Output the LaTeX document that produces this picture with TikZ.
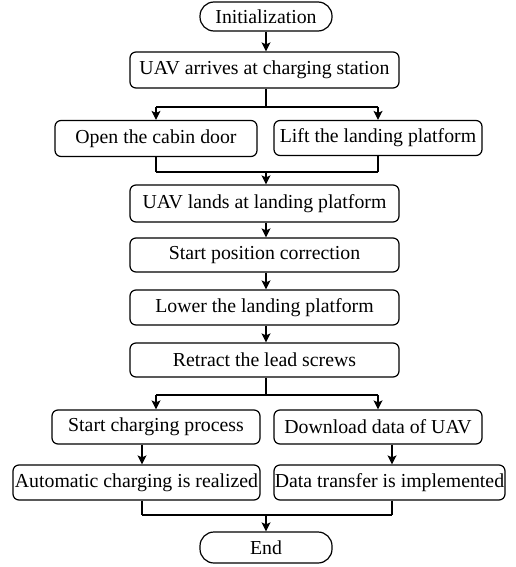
\documentclass[tikz,border=0pt]{standalone}
\usepackage{fontspec}
\setmainfont{Liberation Serif}
\usetikzlibrary{arrows.meta}
\begin{document}
\begin{tikzpicture}[x=1pt,y=-1pt,
  box/.style={draw, line width=1.2pt, rounded corners=6pt, inner sep=0pt, font=\fontsize{19.8}{22}\selectfont},
  term/.style={draw, line width=1.2pt, rounded corners=14pt, inner sep=0pt, font=\fontsize{19.8}{22}\selectfont},
  link/.style={line width=1.2pt, -{Stealth[length=9pt,width=9pt,inset=2pt]}},
  plain/.style={line width=1.2pt}]
\useasboundingbox (0,0) rectangle (515,567);
\node[term, minimum width=132pt, minimum height=29pt] (init) at (266,16.5) {Initialization};
\node[box, minimum width=269pt, minimum height=36pt] (arrive) at (264.5,70) {UAV arrives at charging station};
\node[box, minimum width=202pt, minimum height=36pt] (door) at (156,138.5) {Open the cabin door};
\node[box, minimum width=208pt, minimum height=35pt] (lift) at (378,138) {Lift the landing platform};
\node[box, minimum width=269pt, minimum height=37pt] (lands) at (264.5,203.5) {UAV lands at landing platform};
\node[box, minimum width=269pt, minimum height=34pt] (corr) at (264.5,255) {Start position correction};
\node[box, minimum width=269pt, minimum height=35pt] (lower) at (264.5,307.5) {Lower the landing platform};
\node[box, minimum width=269pt, minimum height=34pt] (retract) at (264.5,360) {Retract the lead screws};
\node[box, minimum width=208pt, minimum height=34pt] (charge) at (156,427) {Start charging process};
\node[box, minimum width=208pt, minimum height=34pt] (download) at (378,427) {Download data of UAV};
\node[box, minimum width=247pt, minimum height=35pt] (auto) at (136.5,482.5) {Automatic charging is realized};
\node[box, minimum width=231pt, minimum height=35pt] (transfer) at (389.5,482.5) {Data transfer is implemented};
\node[term, minimum width=132pt, minimum height=31pt] (endn) at (266,547.5) {End};
% coordinates
\coordinate (s1) at (266,107);
\coordinate (s1l) at (156,107);
\coordinate (s1r) at (378,107);
\coordinate (m1) at (266,172);
\coordinate (m1l) at (156,172);
\coordinate (m1r) at (378,172);
\coordinate (s2) at (266,395);
\coordinate (s2l) at (156,395);
\coordinate (s2r) at (378,395);
\coordinate (m2) at (266,515);
\coordinate (m2l) at (142,515);
\coordinate (m2r) at (392,515);
% connectors
\draw[link] (init.south) -- (init.south |- arrive.north);
\draw[plain] (init.south |- arrive.south) -- (s1);
\draw[plain] (s1l) -- (s1r);
\draw[link] (s1l) -- (s1l |- door.north);
\draw[link] (s1r) -- (s1r |- lift.north);
\draw[plain] (m1l |- door.south) -- (m1l);
\draw[plain] (m1r |- lift.south) -- (m1r);
\draw[plain] (m1l) -- (m1r);
\draw[link] (m1) -- (m1 |- lands.north);
\draw[link] (m1 |- lands.south) -- (m1 |- corr.north);
\draw[link] (m1 |- corr.south) -- (m1 |- lower.north);
\draw[link] (m1 |- lower.south) -- (m1 |- retract.north);
\draw[plain] (m1 |- retract.south) -- (s2);
\draw[plain] (s2l) -- (s2r);
\draw[link] (s2l) -- (s2l |- charge.north);
\draw[link] (s2r) -- (s2r |- download.north);
\draw[link] (m2l |- charge.south) -- (m2l |- auto.north);
\draw[link] (m2r |- download.south) -- (m2r |- transfer.north);
\draw[plain] (m2l |- auto.south) -- (m2l);
\draw[plain] (m2r |- transfer.south) -- (m2r);
\draw[plain] (m2l) -- (m2r);
\draw[link] (m2) -- (m2 |- endn.north);
\end{tikzpicture}
\end{document}
